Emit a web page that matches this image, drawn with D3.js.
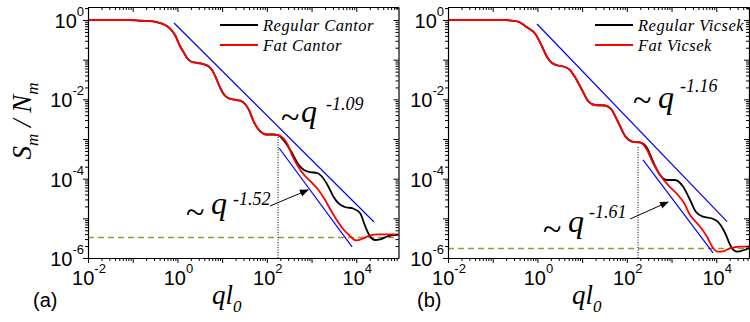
<!DOCTYPE html>
<html>
<head>
<meta charset="utf-8">
<script src="https://cdn.jsdelivr.net/npm/d3@7"></script>
<style>
  body { margin: 0; background: #fff; }
  svg { display: block; }
</style>
</head>
<body>
<svg id="chart" width="750" height="322"></svg>
<script>
// ---- data (q l0 , S_m / N_m) ----

// (a) Cantor: both curves coincide up to q ~ 180
const cantorSharedQ = [0.01, 0.087, 0.146, 0.284, 0.408, 0.528, 0.683, 0.883, 1.14, 1.41, 1.64, 2.12, 2.89, 3.74, 4.84, 5.94, 7.31, 8.98, 11.0, 13.6, 17.5, 25.1, 32.5, 40.0, 49.1, 60.4, 74.1, 96.0, 138, 178];
const cantorSharedS = [1, 1, 0.96, 0.93, 0.84, 0.748, 0.61, 0.419, 0.221, 0.147, 0.110, 0.0874, 0.0824, 0.0778, 0.0692, 0.0549, 0.0345, 0.0199, 0.0132, 0.0108, 0.0100, 0.00924, 0.00764, 0.00538, 0.00301, 0.00195, 0.00150, 0.00130, 0.00130, 0.00126];
const regularCantorTailQ = [283, 366, 499, 679, 925, 1327, 1807, 2339, 3027, 3918, 5623, 8480, 12160, 15740, 20370, 26360, 34070, 48870, 66530, 88000];
const regularCantorTailS = [7.06e-4, 4.44e-4, 2.34e-4, 1.66e-4, 1.47e-4, 1.39e-4, 1.04e-4, 6.54e-5, 3.66e-5, 2.44e-5, 1.93e-5, 1.77e-5, 1.36e-5, 6.41e-6, 3.48e-6, 2.84e-6, 2.93e-6, 3.48e-6, 3.80e-6, 3.85e-6];
const fatCantorTailQ = [283, 366, 499, 716, 1026, 1397, 2004, 2594, 3532, 5070, 7263, 9900, 14190, 20370, 30760, 88000];
const fatCantorTailS = [7.70e-4, 3.95e-4, 2.03e-4, 1.17e-4, 7.79e-5, 5.33e-5, 2.90e-5, 1.72e-5, 9.64e-6, 5.39e-6, 3.59e-6, 2.77e-6, 3.10e-6, 3.70e-6, 3.92e-6, 3.92e-6];
const cantorFitUpper = [[0.84, 0.84], [25000, 8.1e-6]];   // ~ q^-1.09
const cantorFitLower = [[188, 5.93e-4], [8050, 1.90e-6]]; // ~ q^-1.52
const cantorLevel = 3.45e-6;
const cantorCross = [178, 1.26e-3];
const cantorArrow = [[118, 2.05e-5], [836, 5.19e-5]];

// (b) Vicsek
const vicsekSharedQ = [0.01, 0.188, 0.270, 0.368, 0.616, 0.883, 1.27, 1.64, 2.12, 2.89, 4.14, 5.36, 6.93, 9.95, 13.6, 19.4, 32.5, 44.3, 63.6, 91.2, 131, 197];
const vicsekSharedS = [1, 1, 0.96, 0.906, 0.629, 0.457, 0.215, 0.117, 0.0824, 0.0713, 0.0653, 0.0549, 0.0366, 0.0172, 0.00908, 0.00720, 0.00700, 0.00571, 0.00269, 0.00119, 8.65e-4, 8.17e-4];
const regularVicsekTailQ = [283, 385, 553, 793, 1197, 1807, 2594, 3532, 5070, 8050, 10960, 15740, 21420, 29170, 41880, 54000];
const regularVicsekTailS = [5.93e-4, 2.71e-4, 1.24e-4, 9.27e-5, 9.27e-5, 6.35e-5, 2.90e-5, 1.44e-5, 1.10e-5, 9.91e-6, 8.09e-6, 4.27e-6, 1.93e-6, 1.44e-6, 1.59e-6, 1.79e-6];
const fatVicsekTailQ = [283, 385, 553, 836, 1327, 1905, 2594, 3357, 4345, 6223, 8480, 10960, 14960, 20370, 34070, 54000];
const fatVicsekTailS = [5.28e-4, 2.48e-4, 1.24e-4, 6.93e-5, 4.11e-5, 2.44e-5, 1.21e-5, 8.57e-6, 6.15e-6, 3.44e-6, 1.79e-6, 1.44e-6, 1.50e-6, 1.76e-6, 1.93e-6, 1.93e-6];
const vicsekFitUpper = [[0.98, 0.793], [17460, 8.23e-6]]; // ~ q^-1.16
const vicsekFitLower = [[230, 2.96e-4], [8480, 1.34e-6]]; // ~ q^-1.61
const vicsekLevel = 1.82e-6;
const vicsekCross = [178, 6.3e-4];
const vicsekArrow = [[118, 9.63e-6], [836, 2.58e-5]];

// axis labels
const xLabelExps = [-2, 0, 2, 4];
const yLabelExps = [0, -2, -4, -6];
const yDomain = [1e-6, 2.13];

const svg = d3.select('#chart');
const sans = "'Liberation Sans', Arial, sans-serif";
const serif = "'Liberation Serif', 'Times New Roman', serif";
const plotTop = 7, plotBottom = 258;

svg.append('defs').append('marker')
  .attr('id', 'arrowhead')
  .attr('viewBox', '0 0 10 10')
  .attr('refX', 9).attr('refY', 5)
  .attr('markerWidth', 9).attr('markerHeight', 9)
  .attr('markerUnits', 'userSpaceOnUse')
  .attr('orient', 'auto')
  .append('path').attr('d', 'M0,1 L10,5 L0,9 Z').attr('fill', '#000');

function drawPanel(p) {
  const x = d3.scaleLog().domain(p.xDomain).range([p.left, p.right]);
  const y = d3.scaleLog().domain(yDomain).range([plotBottom, plotTop]);
  const g = svg.append('g');

  g.append('clipPath').attr('id', p.id + '-clip')
    .append('rect')
    .attr('x', p.left).attr('y', plotTop)
    .attr('width', p.right - p.left).attr('height', plotBottom - plotTop);
  const plot = g.append('g').attr('clip-path', `url(#${p.id}-clip)`);

  // saturation level (snapped to the pixel grid so it stays crisp)
  const ly = Math.round(y(p.level)) + 0.5;
  plot.append('line')
    .attr('x1', p.left).attr('x2', p.right)
    .attr('y1', ly).attr('y2', ly)
    .attr('stroke', '#9a9a2e').attr('stroke-width', 1.4)
    .attr('stroke-dasharray', '6,4');

  // crossover marker
  plot.append('line')
    .attr('x1', x(p.cross[0])).attr('x2', x(p.cross[0]))
    .attr('y1', plotBottom).attr('y2', y(p.cross[1]))
    .attr('stroke', '#000').attr('stroke-width', 1)
    .attr('stroke-dasharray', '1,1.5');

  const straight = d3.line().x(d => x(d[0])).y(d => y(d[1]));
  p.fits.forEach(f => {
    plot.append('path').attr('d', straight(f))
      .attr('fill', 'none').attr('stroke', '#0000ff').attr('stroke-width', 1.2);
  });

  const smooth = d3.line().x(d => x(d[0])).y(d => y(d[1])).curve(d3.curveMonotoneX);
  p.series.forEach(s => {
    plot.append('path')
      .datum(d3.zip(s.q, s.s))
      .attr('d', smooth)
      .attr('fill', 'none').attr('stroke', s.color).attr('stroke-width', 1.8);
  });

  // arrow
  g.append('path').attr('d', straight(p.arrow))
    .attr('stroke', '#000').attr('stroke-width', 1).attr('fill', 'none')
    .attr('marker-end', 'url(#arrowhead)');

  // axes: left/bottom ticks out, top/right ticks in
  const isMajor = v => Math.abs(Math.log10(v) - Math.round(Math.log10(v))) < 1e-6;
  const xt = x.ticks(), yt = y.ticks();
  const xMajor = xt.filter(isMajor), xMinor = xt.filter(v => !isMajor(v));
  const yMajor = yt.filter(isMajor), yMinor = yt.filter(v => !isMajor(v));

  const axisDefs = [
    [d3.axisBottom(x), `translate(0,${plotBottom})`, xMajor, xMinor],
    [d3.axisBottom(x), `translate(0,${plotTop})`, xMajor, xMinor],
    [d3.axisLeft(y), `translate(${p.left},0)`, yMajor, yMinor],
    [d3.axisLeft(y), `translate(${p.right},0)`, yMajor, yMinor]
  ];
  axisDefs.forEach(([axis, tr, major, minor]) => {
    g.append('g').attr('transform', tr)
      .call(axis.tickValues(major).tickSize(5).tickSizeOuter(0).tickFormat(''));
    g.append('g').attr('transform', tr)
      .call(axis.tickValues(minor).tickSize(3).tickSizeOuter(0).tickFormat(''))
      .select('.domain').remove();
  });
  g.selectAll('.domain').attr('stroke', '#000').attr('stroke-width', 1.2);
  g.selectAll('.tick line').attr('stroke', '#000').attr('stroke-width', 1);

  // tick labels
  g.selectAll('text.xlab').data(xLabelExps).join('text')
    .attr('class', 'xlab')
    .attr('x', d => x(Math.pow(10, d)) + 1).attr('y', 285)
    .attr('text-anchor', 'middle')
    .attr('font-family', sans).attr('font-size', 20)
    .each(function (d) {
      const t = d3.select(this);
      t.append('tspan').text('10');
      t.append('tspan').attr('dy', -12).attr('font-size', 13).text(d);
    });

  g.selectAll('text.ylab').data(yLabelExps).join('text')
    .attr('class', 'ylab')
    .attr('x', p.left - 4).attr('y', d => y(Math.pow(10, d)) + 8)
    .attr('text-anchor', 'end')
    .attr('font-family', sans).attr('font-size', 20)
    .each(function (d) {
      const t = d3.select(this);
      t.append('tspan').text('10');
      t.append('tspan').attr('dy', -12).attr('font-size', 13).text(d);
    });

  // x title
  const xTitle = g.append('text')
    .attr('x', p.xTitleX).attr('y', 304)
    .attr('font-family', serif).attr('font-style', 'italic').attr('font-size', 27);
  xTitle.append('tspan').text('ql');
  xTitle.append('tspan').attr('dy', 8).attr('font-size', 17).text('0');

  // panel tag
  g.append('text').attr('x', p.tagX).attr('y', 307)
    .attr('font-family', sans).attr('font-size', 20).text(p.tag);

  // legend
  p.series.forEach((s, i) => {
    const ly = 25 + i * 20;
    g.append('line').attr('x1', p.legendX).attr('x2', p.legendX + 38)
      .attr('y1', ly).attr('y2', ly)
      .attr('stroke', s.color).attr('stroke-width', 1.8);
    g.append('text').attr('x', p.legendX + 43).attr('y', ly + 5.5)
      .attr('font-family', serif).attr('font-style', 'italic')
      .attr('font-size', 16.5).attr('letter-spacing', 0.5)
      .text(s.name);
  });

  // power-law annotations
  p.notes.forEach(n => {
    g.append('text').attr('x', n.tx).attr('y', n.tildeBase)
      .attr('font-family', serif).attr('font-size', 34).text('~');
    g.append('text').attr('x', n.qx).attr('y', n.base)
      .attr('font-family', serif).attr('font-style', 'italic').attr('font-size', 32).text('q');
    g.append('text').attr('x', n.sx).attr('y', n.supBase)
      .attr('font-family', serif).attr('font-style', 'italic').attr('font-size', 18).text(n.exp);
  });
}

// y title (shared, left)
const yTitle = svg.append('text')
  .attr('transform', 'translate(31,121) rotate(-90)')
  .attr('text-anchor', 'middle')
  .attr('font-family', serif).attr('font-style', 'italic').attr('font-size', 27);
yTitle.append('tspan').text('S');
yTitle.append('tspan').attr('dy', 7).attr('font-size', 17).text('m');
yTitle.append('tspan').attr('dy', -7).text(' / N');
yTitle.append('tspan').attr('dy', 7).attr('font-size', 17).text('m');

drawPanel({
  id: 'a', tag: '(a)', tagX: 33, xTitleX: 212,
  left: 88, right: 398.5, xDomain: [0.01, 88000],
  legendX: 220,
  level: cantorLevel, cross: cantorCross, arrow: cantorArrow,
  fits: [cantorFitUpper, cantorFitLower],
  series: [
    { name: 'Regular Cantor', color: '#000', q: cantorSharedQ.concat(regularCantorTailQ), s: cantorSharedS.concat(regularCantorTailS) },
    { name: 'Fat Cantor', color: '#ff0000', q: cantorSharedQ.concat(fatCantorTailQ), s: cantorSharedS.concat(fatCantorTailS) }
  ],
  notes: [
    { tx: 281, tildeBase: 128, qx: 301, sx: 326, base: 122, supBase: 110, exp: '-1.09' },
    { tx: 186, tildeBase: 223, qx: 211, sx: 233, base: 214, supBase: 205, exp: '-1.52' }
  ]
});

drawPanel({
  id: 'b', tag: '(b)', tagX: 417, xTitleX: 572,
  left: 448, right: 749, xDomain: [0.01, 54000],
  legendX: 595,
  level: vicsekLevel, cross: vicsekCross, arrow: vicsekArrow,
  fits: [vicsekFitUpper, vicsekFitLower],
  series: [
    { name: 'Regular Vicsek', color: '#000', q: vicsekSharedQ.concat(regularVicsekTailQ), s: vicsekSharedS.concat(regularVicsekTailS) },
    { name: 'Fat Vicsek', color: '#ff0000', q: vicsekSharedQ.concat(fatVicsekTailQ), s: vicsekSharedS.concat(fatVicsekTailS) }
  ],
  notes: [
    { tx: 633, tildeBase: 111, qx: 658, sx: 680, base: 108, supBase: 92, exp: '-1.16' },
    { tx: 543, tildeBase: 240, qx: 568, sx: 589, base: 232, supBase: 218, exp: '-1.61' }
  ]
});
</script>
</body>
</html>
